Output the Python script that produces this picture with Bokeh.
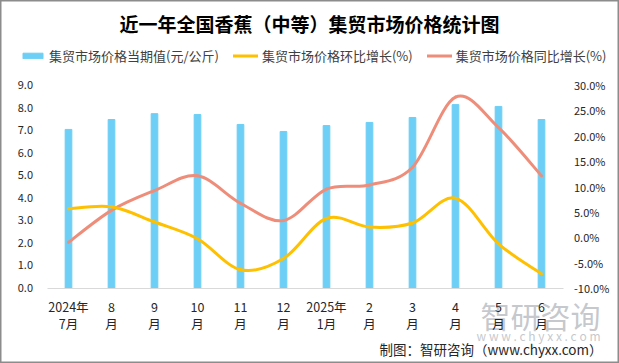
from bokeh.plotting import figure
from bokeh.models import (Range1d, LinearAxis, FixedTicker, PrintfTickFormatter,
                          Legend, LegendItem, Label, ColumnDataSource)
from bokeh.embed import file_html
from bokeh.resources import INLINE

# ---------------- data ----------------
month_top = ["2024年", "8", "9", "10", "11", "12", "2025年", "2", "3", "4", "5", "6"]
month_bottom = ["7月", "月", "月", "月", "月", "月", "1月", "月", "月", "月", "月", "月"]
price = [7.03, 7.47, 7.73, 7.69, 7.25, 6.94, 7.20, 7.34, 7.56, 8.13, 8.05, 7.47]
mom = [5.6, 6.0, 3.0, -0.3, -6.4, -4.2, 3.7, 2.0, 2.8, 7.7, -1.3, -7.2]
yoy = [-1.0, 5.3, 9.2, 12.1, 6.7, 3.3, 9.5, 10.3, 13.8, 27.6, 21.6, 12.1]
left_ticks = [0, 1, 2, 3, 4, 5, 6, 7, 8, 9]
right_ticks = [-10, -5, 0, 5, 10, 15, 20, 25, 30]

BAR = "#6DCFF6"
YEL = "#FFC000"
RED = "#EE8E7A"
FONT = "Noto Sans CJK SC"

# ---------------- layout (pixels of the 619x363 canvas) ----------------
W, H = 619, 363
FL, FR, FT, FB = 46.5, 562.5, 84.5, 287.5   # plot area edges
n = len(month_top)
xpx = (FR - FL) / n
lpx = (FB - FT) / (left_ticks[-1] - left_ticks[0])
rpx = (FB - FT) / (right_ticks[-1] - right_ticks[0])


def X(px):
    return (px - FL) / xpx


def Y(py):
    return (FB - py) / lpx


xs = [i + 0.5 for i in range(n)]

p = figure(width=W, height=H, output_backend="svg", toolbar_location=None,
           title=None, min_border=0,
           x_range=Range1d(X(0), X(W)), y_range=Range1d(Y(H), Y(0)))
p.extra_y_ranges = {"pct": Range1d(right_ticks[0] - (H - FB) / rpx,
                                   right_ticks[-1] + FT / rpx)}
p.outline_line_color = "#8C8C8C"
p.outline_line_width = 2
p.xgrid.visible = False
p.ygrid.visible = False
p.background_fill_color = "white"
p.border_fill_color = "white"

bars = p.vbar(x=xs, top=price, width=0.155, color=BAR)


def bez_source(ys):
    m = len(ys)
    d = dict(x0=[], y0=[], x1=[], y1=[], cx0=[], cy0=[], cx1=[], cy1=[])
    for i in range(m - 1):
        pxm, pym = (xs[i - 1], ys[i - 1]) if i > 0 else (xs[i], ys[i])
        pxp, pyp = (xs[i + 2], ys[i + 2]) if i + 2 < m else (xs[i + 1], ys[i + 1])
        d["x0"].append(xs[i]); d["y0"].append(ys[i])
        d["x1"].append(xs[i + 1]); d["y1"].append(ys[i + 1])
        d["cx0"].append(xs[i] + (xs[i + 1] - pxm) / 6)
        d["cy0"].append(ys[i] + (ys[i + 1] - pym) / 6)
        d["cx1"].append(xs[i + 1] - (pxp - xs[i]) / 6)
        d["cy1"].append(ys[i + 1] - (pyp - ys[i]) / 6)
    return ColumnDataSource(d)


yoy_r = p.bezier(x0="x0", y0="y0", x1="x1", y1="y1", cx0="cx0", cy0="cy0",
                 cx1="cx1", cy1="cy1", source=bez_source(yoy), line_color=RED,
                 line_width=3, line_cap="round", y_range_name="pct")
mom_r = p.bezier(x0="x0", y0="y0", x1="x1", y1="y1", cx0="cx0", cy0="cy0",
                 cx1="cx1", cy1="cy1", source=bez_source(mom), line_color=YEL,
                 line_width=3, line_cap="round", y_range_name="pct")


def style_axis(ax, size, standoff):
    ax.major_tick_line_color = None
    ax.minor_tick_line_color = None
    ax.major_tick_out = 0
    ax.major_tick_in = 0
    ax.major_label_standoff = standoff
    ax.major_label_text_font = FONT
    ax.major_label_text_font_size = size
    ax.major_label_text_color = "#262626"


# bottom axis: first label line
xa = p.xaxis[0]
xa.fixed_location = 0
xa.bounds = (0, n)
xa.ticker = FixedTicker(ticks=xs)
xa.major_label_overrides = {x: m for x, m in zip(xs, month_top)}
xa.axis_line_color = "#D9D9D9"
style_axis(xa, "12.5px", 9)

# bottom axis: second label line
xb = LinearAxis(fixed_location=0, bounds=(0, n), ticker=FixedTicker(ticks=xs))
xb.major_label_overrides = {x: m for x, m in zip(xs, month_bottom)}
xb.axis_line_color = None
style_axis(xb, "12.5px", 26)
p.add_layout(xb, "below")

ya = p.yaxis[0]
ya.fixed_location = 0
ya.bounds = (left_ticks[0], left_ticks[-1])
ya.ticker = FixedTicker(ticks=left_ticks)
ya.formatter = PrintfTickFormatter(format="%.1f")
ya.axis_line_color = None
style_axis(ya, "11px", 14)

ra = LinearAxis(y_range_name="pct", fixed_location=n,
                bounds=(right_ticks[0], right_ticks[-1]),
                ticker=FixedTicker(ticks=right_ticks),
                formatter=PrintfTickFormatter(format="%.1f%%"))
ra.axis_line_color = None
style_axis(ra, "11px", 11)
p.add_layout(ra, "right")

# legend
lg = Legend(items=[LegendItem(label="集贸市场价格当期值(元/公斤)", renderers=[bars]),
                   LegendItem(label="集贸市场价格环比增长(%)", renderers=[mom_r]),
                   LegendItem(label="集贸市场价格同比增长(%)", renderers=[yoy_r])],
            location=(20, H - 65), orientation="horizontal",
            glyph_width=25, glyph_height=7, label_standoff=4,
            padding=0, margin=0, spacing=14,
            border_line_color=None, background_fill_alpha=0,
            label_text_font=FONT, label_text_font_size="13px",
            label_text_color="#404040")
p.add_layout(lg, "center")

# title
p.add_layout(Label(x=X(309), y=Y(23.3), text="近一年全国香蕉（中等）集贸市场价格统计图",
                   text_align="center", text_baseline="middle",
                   text_font=FONT, text_font_size="19px", text_font_style="bold",
                   text_color="#000000"))

# watermark
p.add_layout(Label(x=X(600), y=Y(314.5), text="智研咨询", text_align="right",
                   text_baseline="middle", text_font=FONT, text_font_size="30px",
                   text_color="#9EA3AB", text_alpha=0.6, level="underlay"))
p.add_layout(Label(x=X(600), y=Y(335), text="w w w . c h y x x . c o m",
                   text_align="right", text_baseline="middle", text_font=FONT,
                   text_font_size="12px", text_color="#9EA3AB", text_alpha=0.6,
                   level="underlay"))

# footer
p.add_layout(Label(x=X(602), y=Y(348), text="制图：智研咨询（www.chyxx.com）",
                   text_align="right", text_baseline="middle", text_font=FONT,
                   text_font_size="13.5px", text_color="#262626"))

open("out.html", "w").write(file_html(p, INLINE))
